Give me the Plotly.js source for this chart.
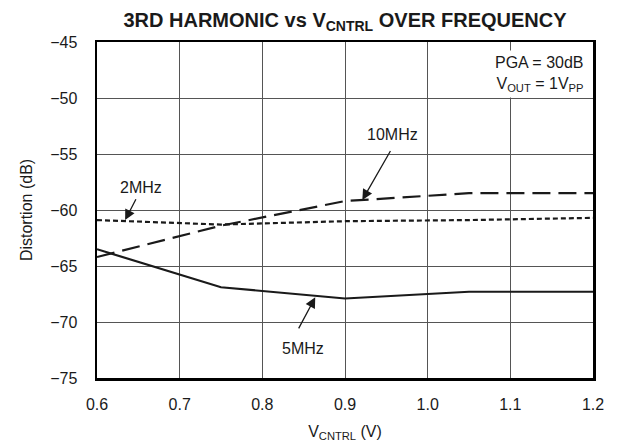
<!DOCTYPE html>
<html>
<head>
<meta charset="utf-8">
<script src="https://cdn.plot.ly/plotly-3.0.1.min.js"></script>
<style>
  html, body { margin: 0; padding: 0; background: #fff; }
  #chart { width: 618px; height: 445px; }
</style>
</head>
<body>
<div id="chart"></div>
<script>
// Data
const vcntrl = [0.6, 0.75, 0.9, 1.05, 1.2];
const dist2MHz = [-60.9, -61.3, -61.0, -60.9, -60.7];
const dist5MHz = [-63.5, -66.9, -67.9, -67.3, -67.3];
const dist10MHz = [-64.2, -61.4, -59.2, -58.5, -58.5];

const xTicks = [0.6, 0.7, 0.8, 0.9, 1.0, 1.1, 1.2];
const xTickText = ['0.6', '0.7', '0.8', '0.9', '1.0', '1.1', '1.2'];
const yTicks = [-75, -70, -65, -60, -55, -50, -45];

const FONT = 'Liberation Sans, Arial, Helvetica, sans-serif';
const INK = '#1a1a1a';

const traces = [
  { x: vcntrl, y: dist2MHz, mode: 'lines', name: '2MHz',
    line: { color: INK, width: 2.2, dash: '5px,3px' } },
  { x: vcntrl, y: dist5MHz, mode: 'lines', name: '5MHz',
    line: { color: INK, width: 2.2 } },
  { x: vcntrl, y: dist10MHz, mode: 'lines', name: '10MHz',
    line: { color: INK, width: 2.2, dash: '18px,8px' } }
];

function arrow(x, y, ax, ay) {
  return { x: x, y: y, ax: ax, ay: ay, xref: 'x', yref: 'y', axref: 'x', ayref: 'y',
    text: '', showarrow: true, arrowhead: 2, arrowsize: 1.6, arrowwidth: 1.3, arrowcolor: INK };
}
function label(x, y, t) {
  return { x: x, y: y, xref: 'x', yref: 'y', text: t, showarrow: false,
    font: { family: FONT, size: 16, color: INK } };
}

const layout = {
  width: 618, height: 445,
  margin: { l: 97, r: 25, t: 42, b: 67 },
  paper_bgcolor: '#fff', plot_bgcolor: '#fff',
  showlegend: false,
  font: { family: FONT, size: 16, color: INK },
  title: {
    text: '<b>3RD HARMONIC vs V<sub>CNTRL</sub> OVER FREQUENCY</b>',
    font: { family: FONT, size: 20, color: INK },
    x: 345 / 618, xref: 'container', xanchor: 'center',
    y: 1 - 20 / 445, yref: 'container', yanchor: 'middle'
  },
  xaxis: {
    range: [0.6, 1.2], tickvals: xTicks, ticktext: xTickText,
    showgrid: true, gridcolor: '#555', gridwidth: 1,
    zeroline: false, showline: true, mirror: true, linecolor: '#000', linewidth: 2.5,
    ticks: 'outside', ticklen: 10, tickcolor: 'rgba(0,0,0,0)',
    tickfont: { family: FONT, size: 16, color: INK },
    title: { text: 'V<sub>CNTRL</sub> (V)', font: { family: FONT, size: 16, color: INK }, standoff: 14 }
  },
  yaxis: {
    range: [-75, -45], tickvals: yTicks,
    showgrid: true, gridcolor: '#555', gridwidth: 1,
    zeroline: false, showline: true, mirror: true, linecolor: '#000', linewidth: 2.5,
    ticks: 'outside', ticklen: 14, tickcolor: 'rgba(0,0,0,0)',
    tickfont: { family: FONT, size: 16, color: INK },
    title: { text: 'Distortion (dB)', font: { family: FONT, size: 16, color: INK }, standoff: 14 }
  },
  annotations: [
    { xref: 'paper', yref: 'paper', x: 0.99, y: 0.975, xanchor: 'right', yanchor: 'top',
      text: 'PGA = 30dB<br>V<sub>OUT</sub> = 1V<sub>PP</sub>', align: 'right', showarrow: false,
      bgcolor: '#fff', borderpad: 3,
      font: { family: FONT, size: 16, color: INK } },
    arrow(0.634, -60.9, 0.648, -58.9),
    label(0.653, -58.0, '2MHz'),
    arrow(0.864, -67.8, 0.843, -70.7),
    label(0.849, -72.4, '5MHz'),
    arrow(0.921, -59.1, 0.956, -54.6),
    label(0.958, -53.3, '10MHz')
  ]
};

Plotly.newPlot('chart', traces, layout, { displayModeBar: false, staticPlot: true });
</script>
</body>
</html>
